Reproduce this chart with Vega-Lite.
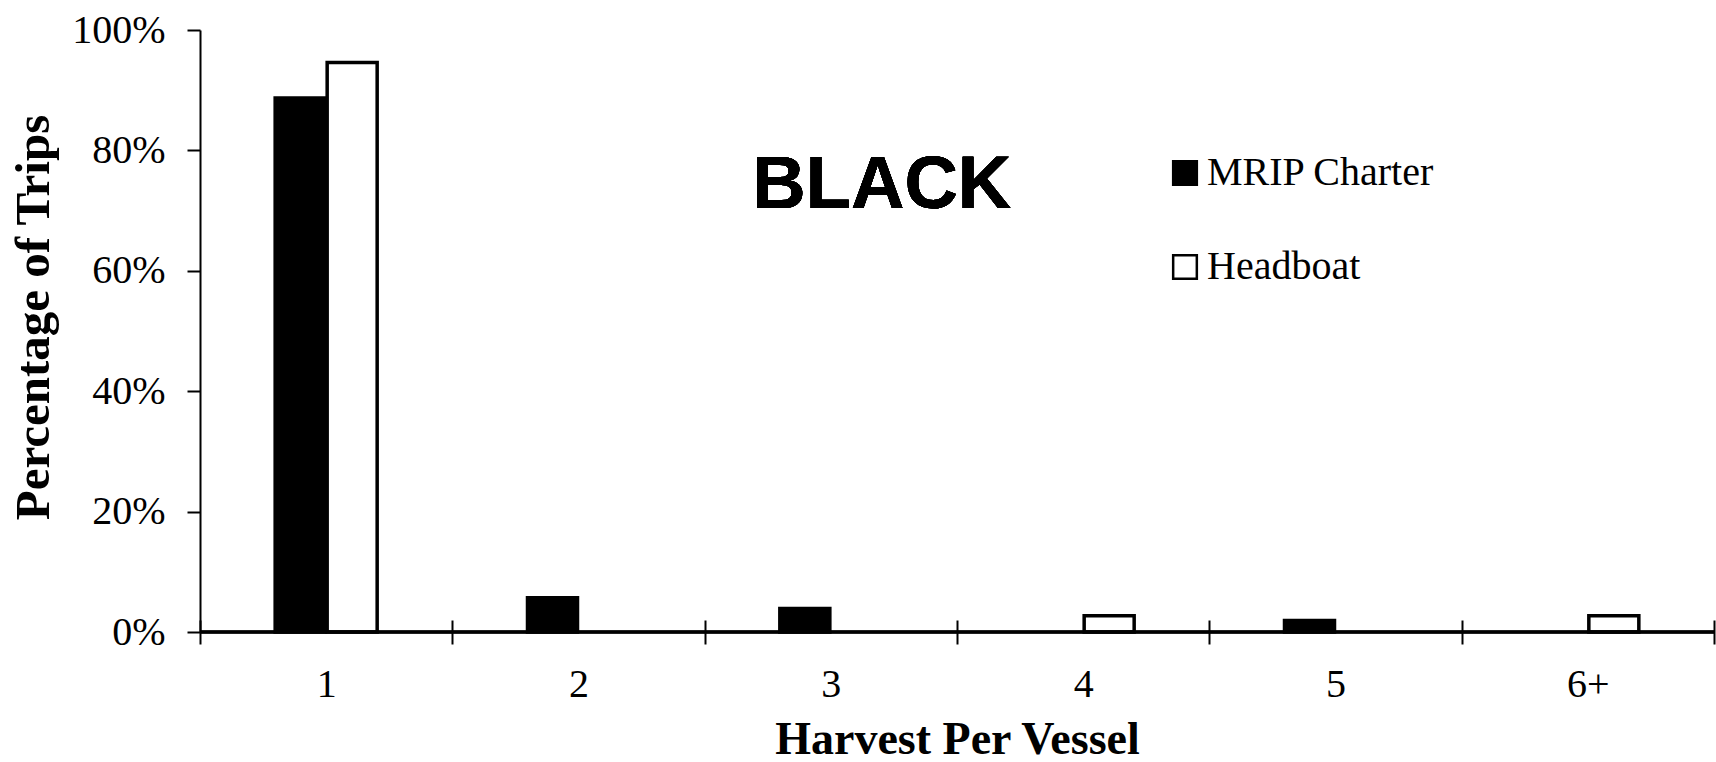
{
  "$schema": "https://vega.github.io/schema/vega-lite/v6.json",
  "width": 1514,
  "height": 602,
  "autosize": {"type": "none"},
  "padding": {"left": 200, "top": 30, "right": 2, "bottom": 130},
  "background": "white",
  "config": {"view": {"stroke": null}, "font": "Liberation Serif"},
  "data": {
    "values": [
      {"harvest": "1", "source": "MRIP Charter", "pct": 0.887},
      {"harvest": "1", "source": "Headboat", "pct": 0.946},
      {"harvest": "2", "source": "MRIP Charter", "pct": 0.057},
      {"harvest": "3", "source": "MRIP Charter", "pct": 0.039},
      {"harvest": "4", "source": "Headboat", "pct": 0.027},
      {"harvest": "5", "source": "MRIP Charter", "pct": 0.019},
      {"harvest": "6+", "source": "Headboat", "pct": 0.027}
    ]
  },
  "layer": [
    {
      "encoding": {
        "x": {
          "field": "harvest",
          "type": "nominal",
          "sort": ["1", "2", "3", "4", "5", "6+"],
          "scale": {"domain": ["1", "2", "3", "4", "5", "6+"], "paddingInner": 0, "paddingOuter": 0},
          "axis": {
            "title": "Harvest Per Vessel",
            "labelAngle": 0,
            "tickBand": "extent",
            "domain": false,
            "offset": -12,
            "tickSize": 24,
            "tickColor": "black",
            "tickWidth": 2,
            "labelPadding": 20,
            "labelFontSize": 40,
            "labelColor": "black",
            "labelFont": "Liberation Serif",
            "titleFont": "Liberation Serif",
            "titleFontSize": 46,
            "titleFontWeight": "bold",
            "titleColor": "black",
            "titlePadding": 13
          }
        },
        "y": {
          "field": "pct",
          "type": "quantitative",
          "scale": {"domain": [0, 1]},
          "axis": {
            "title": "Percentage of Trips",
            "format": ".0%",
            "values": [0, 0.2, 0.4, 0.6, 0.8, 1],
            "grid": false,
            "tickSize": 13,
            "tickColor": "black",
            "tickWidth": 2,
            "domainColor": "black",
            "domainWidth": 2,
            "labelPadding": 22,
            "labelFontSize": 40,
            "labelColor": "black",
            "labelFont": "Liberation Serif",
            "titleFont": "Liberation Serif",
            "titleFontSize": 49,
            "titleFontWeight": "bold",
            "titleColor": "black",
            "titlePadding": 13,
            "titleY": 287
          }
        },
        "fill": {
          "field": "source",
          "type": "nominal",
          "scale": {"domain": ["MRIP Charter", "Headboat"], "range": ["black", "white"]},
          "legend": {
            "title": null,
            "orient": "none",
            "legendX": 965,
            "legendY": 123,
            "direction": "vertical",
            "symbolType": "square",
            "symbolSize": 560,
            "symbolStrokeColor": "black",
            "symbolStrokeWidth": 2.5,
            "symbolOpacity": 1,
            "labelFontSize": 40,
            "labelLimit": 500,
            "labelFont": "Liberation Serif",
            "labelColor": "black",
            "labelOffset": 2,
            "rowPadding": 54
          }
        }
      },
      "layer": [
        {
          "transform": [{"filter": {"field": "source", "equal": "MRIP Charter"}}],
          "mark": {"type": "bar", "stroke": "black", "strokeWidth": 3.5, "width": 50, "xOffset": -26}
        },
        {
          "transform": [{"filter": {"field": "source", "equal": "Headboat"}}],
          "mark": {"type": "bar", "stroke": "black", "strokeWidth": 3.5, "width": 50, "xOffset": 26}
        }
      ]
    },
    {
      "mark": {"type": "rule", "color": "black", "strokeWidth": 2.5},
      "encoding": {"y": {"datum": 0}}
    },
    {
      "mark": {"type": "text", "font": "Liberation Sans", "fontWeight": "bold", "fontSize": 74, "dx": 51, "align": "center", "baseline": "middle", "color": "black"},
      "encoding": {
        "x": {"datum": "3"},
        "y": {"datum": 0.741},
        "text": {"value": "BLACK"}
      }
    }
  ]
}
